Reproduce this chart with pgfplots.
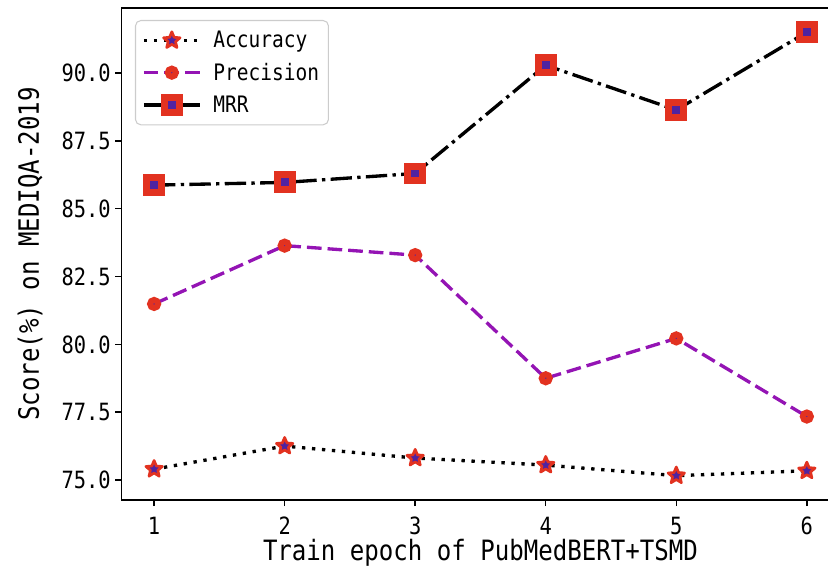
\documentclass[border=0pt]{standalone}
\usepackage{pgfplots}
\pgfplotsset{compat=1.18}
\usepackage{fontspec}
\setmainfont{DejaVu Sans Mono}[FakeStretch=0.86]
\definecolor{mred}{RGB}{226,50,32}
\definecolor{mpurple}{RGB}{80,35,160}
\definecolor{pviolet}{RGB}{148,20,180}
\pgfdeclareplotmark{fstar}{%
  \pgfpathmoveto{\pgfpointpolar{90}{\pgfplotmarksize}}%
  \pgfpathlineto{\pgfpointpolar{126}{0.45\pgfplotmarksize}}%
  \pgfpathlineto{\pgfpointpolar{162}{\pgfplotmarksize}}%
  \pgfpathlineto{\pgfpointpolar{198}{0.45\pgfplotmarksize}}%
  \pgfpathlineto{\pgfpointpolar{234}{\pgfplotmarksize}}%
  \pgfpathlineto{\pgfpointpolar{270}{0.45\pgfplotmarksize}}%
  \pgfpathlineto{\pgfpointpolar{306}{\pgfplotmarksize}}%
  \pgfpathlineto{\pgfpointpolar{342}{0.45\pgfplotmarksize}}%
  \pgfpathlineto{\pgfpointpolar{18}{\pgfplotmarksize}}%
  \pgfpathlineto{\pgfpointpolar{54}{0.45\pgfplotmarksize}}%
  \pgfpathclose
  \pgfusepathqfillstroke}
\begin{document}
\begin{tikzpicture}
\useasboundingbox (-91.1pt,-53.25pt) rectangle (529.9pt,375pt);
\begin{axis}[
  at={(0,0)}, anchor=south west,
  scale only axis, width=538.5pt, height=369pt,
  xmin=0.75, xmax=6.25, ymin=74.263, ymax=92.40,
  xtick={1,2,3,4,5,6}, ytick={75,77.5,80,82.5,85,87.5,90},
  xtick pos=bottom, ytick pos=left,
  tick align=outside, major tick length=4.5pt,
  every tick/.style={black, line width=1.1pt},
  axis line style={line width=1.2pt},
  /pgf/number format/assume math mode=true,
  yticklabel style={/pgf/number format/.cd, fixed, fixed zerofill, precision=1},
  xticklabel style={yshift=-4.5pt},
  tick label style={font=\fontsize{17.8}{20}\selectfont},
  xlabel={Train epoch of PubMedBERT+TSMD},
  ylabel={Score(\%) on MEDIQA-2019},
  label style={font=\fontsize{21}{25}\selectfont},
  xlabel style={at={(axis description cs:0.5,-0.108)}, anchor=center},
  ylabel style={at={(axis description cs:-0.1274,0.5)}, anchor=center},
  legend style={at={(axis description cs:0.0188,0.9756)}, anchor=north west,
    draw={rgb,255:red,204;green,204;blue,204}, rounded corners=4pt, line width=0.8pt,
    font=\fontsize{17}{20}\selectfont, row sep=6pt, inner xsep=5pt, inner ysep=6pt,
    /tikz/every odd column/.append style={column sep=7pt}},
  legend cell align=left,
  legend image code/.code={\draw[mark repeat=2,mark phase=2,#1] plot coordinates {(0pt,0pt)(21pt,0pt)(42pt,0pt)};},
]
\addplot[black, line width=2.5pt, dash pattern=on 2.5pt off 5pt,
  mark=fstar, mark size=6.5pt, mark options={solid, fill=mpurple, draw=mred, line width=2pt, line join=round}]
  coordinates {(1,75.40) (2,76.25) (3,75.81) (4,75.55) (5,75.16) (6,75.34)};
\addlegendentry{Accuracy}
\addplot[pviolet, line width=2.5pt, dash pattern=on 11pt off 4.5pt,
  mark=*, mark size=3pt, mark options={solid, fill=mpurple, draw=mred, line width=4.5pt}]
  coordinates {(1,81.49) (2,83.64) (3,83.29) (4,78.75) (5,80.22) (6,77.34)};
\addlegendentry{Precision}
\addplot[black, line width=2.5pt, dash pattern=on 16pt off 4pt on 2.5pt off 4pt,
  mark=square*, mark size=5.6pt, mark options={solid, fill=mpurple, draw=mred, line width=5.25pt}]
  coordinates {(1,85.87) (2,85.97) (3,86.30) (4,90.29) (5,88.64) (6,91.51)};
\addlegendentry{MRR}
\end{axis}
\end{tikzpicture}
\end{document}
